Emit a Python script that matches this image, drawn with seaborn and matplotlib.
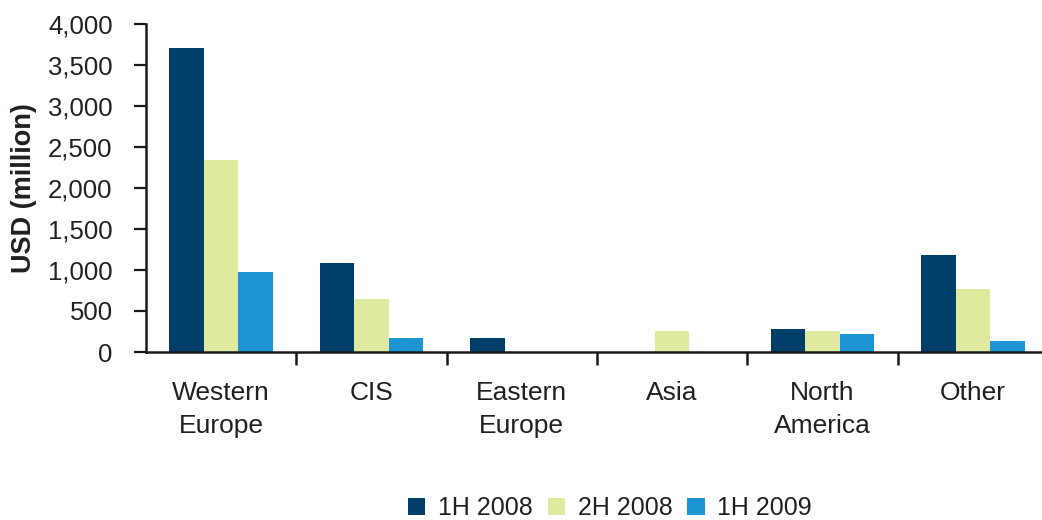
import matplotlib
matplotlib.use("Agg")
import matplotlib.pyplot as plt
from matplotlib.ticker import FixedLocator, FuncFormatter
import seaborn as sns
import pandas as pd

# Regional values, USD million
regions = ["Western\nEurope", "CIS", "Eastern\nEurope", "Asia", "North\nAmerica", "Other"]
periods = ["1H 2008", "2H 2008", "1H 2009"]
h1_2008 = [3710, 1080, 165, 0, 280, 1180]
h2_2008 = [2340, 650, 0, 255, 255, 770]
h1_2009 = [970, 165, 0, 0, 215, 140]
colors = ["#013F6B", "#DFE99F", "#1E95D3"]
y_ticks = [0, 500, 1000, 1500, 2000, 2500, 3000, 3500, 4000]

df = pd.DataFrame({
    "region": regions * 3,
    "period": [p for p in periods for _ in regions],
    "value": h1_2008 + h2_2008 + h1_2009,
})

sns.set_theme(style="ticks")
plt.rcParams["font.family"] = ["Liberation Sans", "DejaVu Sans"]
text_color = "#231F20"

fig = plt.figure(figsize=(10.42, 5.20), dpi=100)
W, H = 1042, 520
left, right, bottom, top = 146, 1048, 352, 24
ax = fig.add_axes([left / W, 1 - bottom / H, (right - left) / W, (bottom - top) / H])

sns.barplot(data=df, x="region", y="value", hue="period", order=regions,
            hue_order=periods, palette=colors, saturation=1, width=0.69,
            linewidth=0, errorbar=None, ax=ax)

ax.set_xlim(-0.5, 5.5)
ax.set_ylim(0, 4000)
ax.yaxis.set_major_locator(FixedLocator(y_ticks))
ax.yaxis.set_major_formatter(FuncFormatter(lambda v, _: f"{int(v):,}"))

for s in ("top", "right"):
    ax.spines[s].set_visible(False)
for s in ("left", "bottom"):
    ax.spines[s].set_linewidth(1.8)
    ax.spines[s].set_color("#1a1a1a")

ax.tick_params(axis="y", direction="out", length=9, width=1.6, color="#1a1a1a",
               pad=15, labelsize=18.5, labelcolor=text_color)
ax.tick_params(axis="x", which="major", length=0, pad=21, labelsize=19,
               labelcolor=text_color)
ax.xaxis.set_minor_locator(FixedLocator([0.5, 1.5, 2.5, 3.5, 4.5]))
ax.tick_params(axis="x", which="minor", direction="out", length=9, width=1.8,
               color="#1a1a1a")
for lbl in ax.get_xticklabels():
    lbl.set_linespacing(1.45)

ax.set_xlabel("")
ax.set_ylabel("USD (million)", fontsize=19.5, fontweight="bold", color=text_color)
ax.yaxis.set_label_coords((37 - left) / (right - left), 0.5)

handles, labels = ax.get_legend_handles_labels()
ax.legend(handles, labels, loc="center", bbox_to_anchor=(610 / W, 1 - 508 / H),
          bbox_transform=fig.transFigure, ncol=3, frameon=False, fontsize=18,
          handlelength=0.7, handleheight=0.7, handletextpad=0.5,
          columnspacing=0.6, labelcolor=text_color)

fig.savefig("out.png", dpi=100)
